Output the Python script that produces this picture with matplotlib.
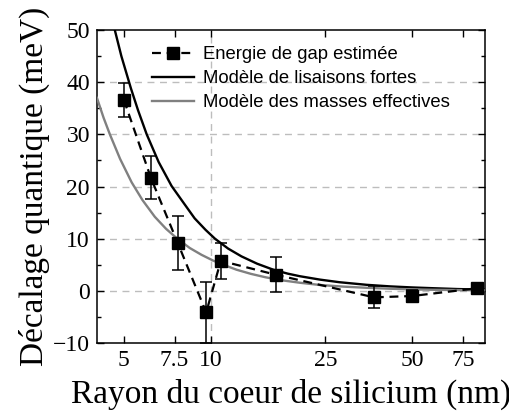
import matplotlib
matplotlib.use("Agg")
import matplotlib.pyplot as plt
from matplotlib.ticker import FixedLocator, NullLocator, MultipleLocator, NullFormatter

# Estimated gap energy vs. silicon core radius
radius_nm = [5.0, 6.2, 7.7, 9.65, 10.85, 16.8, 36.9, 50.0, 84.3]
shift_meV = [36.6, 21.7, 9.1, -4.15, 5.75, 3.1, -1.25, -1.0, 0.5]
shift_err = [3.2, 4.1, 5.2, 5.9, 3.4, 3.4, 2.1, 1.2, 0.6]

# Tight-binding model curve
tb_radius = [4.65, 4.9, 5.29, 5.6, 6.0, 6.6, 7.32, 8.0, 8.8, 9.6, 10.35, 11.5,
             12.8, 14.5, 16.5, 18.5, 20.4, 23.96, 28.0, 34.8, 42.0, 50.0, 59.2,
             72.0, 89.6]
tb_shift = [50.0, 45.0, 38.8, 34.6, 30.0, 24.7, 20.1, 17.1, 13.9, 11.7, 10.0,
            8.1, 6.6, 5.2, 4.05, 3.3, 2.8, 2.15, 1.65, 1.15, 0.85, 0.65, 0.5,
            0.34, 0.22]

# Effective-mass model curve
em_radius = [4.03, 4.25, 4.47, 4.85, 5.32, 5.8, 6.4, 7.0, 7.66, 8.47, 9.3,
             10.2, 11.06, 12.3, 13.8, 15.5, 17.5, 20.4, 23.96, 29.0, 34.8,
             42.0, 50.0, 59.2, 75.0, 89.6]
em_shift = [37.0, 33.2, 30.0, 25.3, 20.8, 17.4, 14.2, 11.9, 10.0, 8.2, 6.9,
            5.8, 5.0, 4.05, 3.25, 2.6, 2.05, 1.55, 1.12, 0.8, 0.58, 0.4, 0.28,
            0.2, 0.13, 0.1]

xticks = [5, 7.5, 10, 25, 50, 75]
xtick_labels = ["5", "7.5", "10", "25", "50", "75"]

serif = ["Liberation Serif", "DejaVu Serif"]
sans = ["Liberation Sans", "DejaVu Sans"]

fig = plt.figure(figsize=(5.10, 4.17), dpi=100)
ax = fig.add_axes([0.190, 0.1775, 0.761, 0.7505])

grid_kw = dict(color="#bdbdbd", lw=1.0, ls=(0, (5, 4)), zorder=0)
for yv in [0, 10, 20, 30, 40]:
    ax.axhline(yv, **grid_kw)
ax.axvline(10, **grid_kw)

ax.errorbar(radius_nm, shift_meV, yerr=shift_err, fmt="none", ecolor="black",
            capsize=4, elinewidth=1.1, capthick=1.1, zorder=4)
h_data, = ax.plot(radius_nm, shift_meV, color="black", ls=(0, (4, 2.6)),
                  lw=1.6, marker="s", ms=8, mec="black", mfc="black",
                  label="Energie de gap estimée", zorder=5)
h_tb, = ax.plot(tb_radius, tb_shift, color="black", lw=1.7,
                label="Modèle de lisaisons fortes", zorder=3)
h_em, = ax.plot(em_radius, em_shift, color="#808080", lw=1.7,
                label="Modèle des masses effectives", zorder=3)

ax.set_xscale("log")
ax.set_xlim(4.03, 89.6)
ax.set_ylim(-10, 50)

ax.xaxis.set_major_locator(FixedLocator(xticks))
ax.xaxis.set_minor_locator(NullLocator())
ax.xaxis.set_minor_formatter(NullFormatter())
ax.set_xticklabels(xtick_labels)
ax.yaxis.set_major_locator(MultipleLocator(10))
ax.yaxis.set_minor_locator(MultipleLocator(5))

ax.tick_params(which="both", direction="in", top=True, right=True,
               width=1.0, colors="black")
ax.tick_params(which="major", length=5, labelsize=17, pad=5)
ax.tick_params(which="minor", length=3)
for lab in ax.get_xticklabels() + ax.get_yticklabels():
    lab.set_family(serif)

for sp in ax.spines.values():
    sp.set_linewidth(1.1)

ax.set_xlabel("Rayon du coeur de silicium (nm)", family=serif, fontsize=24,
              labelpad=6)
ax.set_ylabel("Décalage quantique (meV)", family=serif, fontsize=24,
              labelpad=2)

leg = ax.legend(handles=[h_data, h_tb, h_em], loc="upper left",
                bbox_to_anchor=(0.141, 0.948), frameon=False,
                borderpad=0, borderaxespad=0, handlelength=2.3,
                handletextpad=0.5, labelspacing=0.38, numpoints=1,
                prop={"family": sans, "size": 13.3})

fig.savefig("out.png", dpi=100)
